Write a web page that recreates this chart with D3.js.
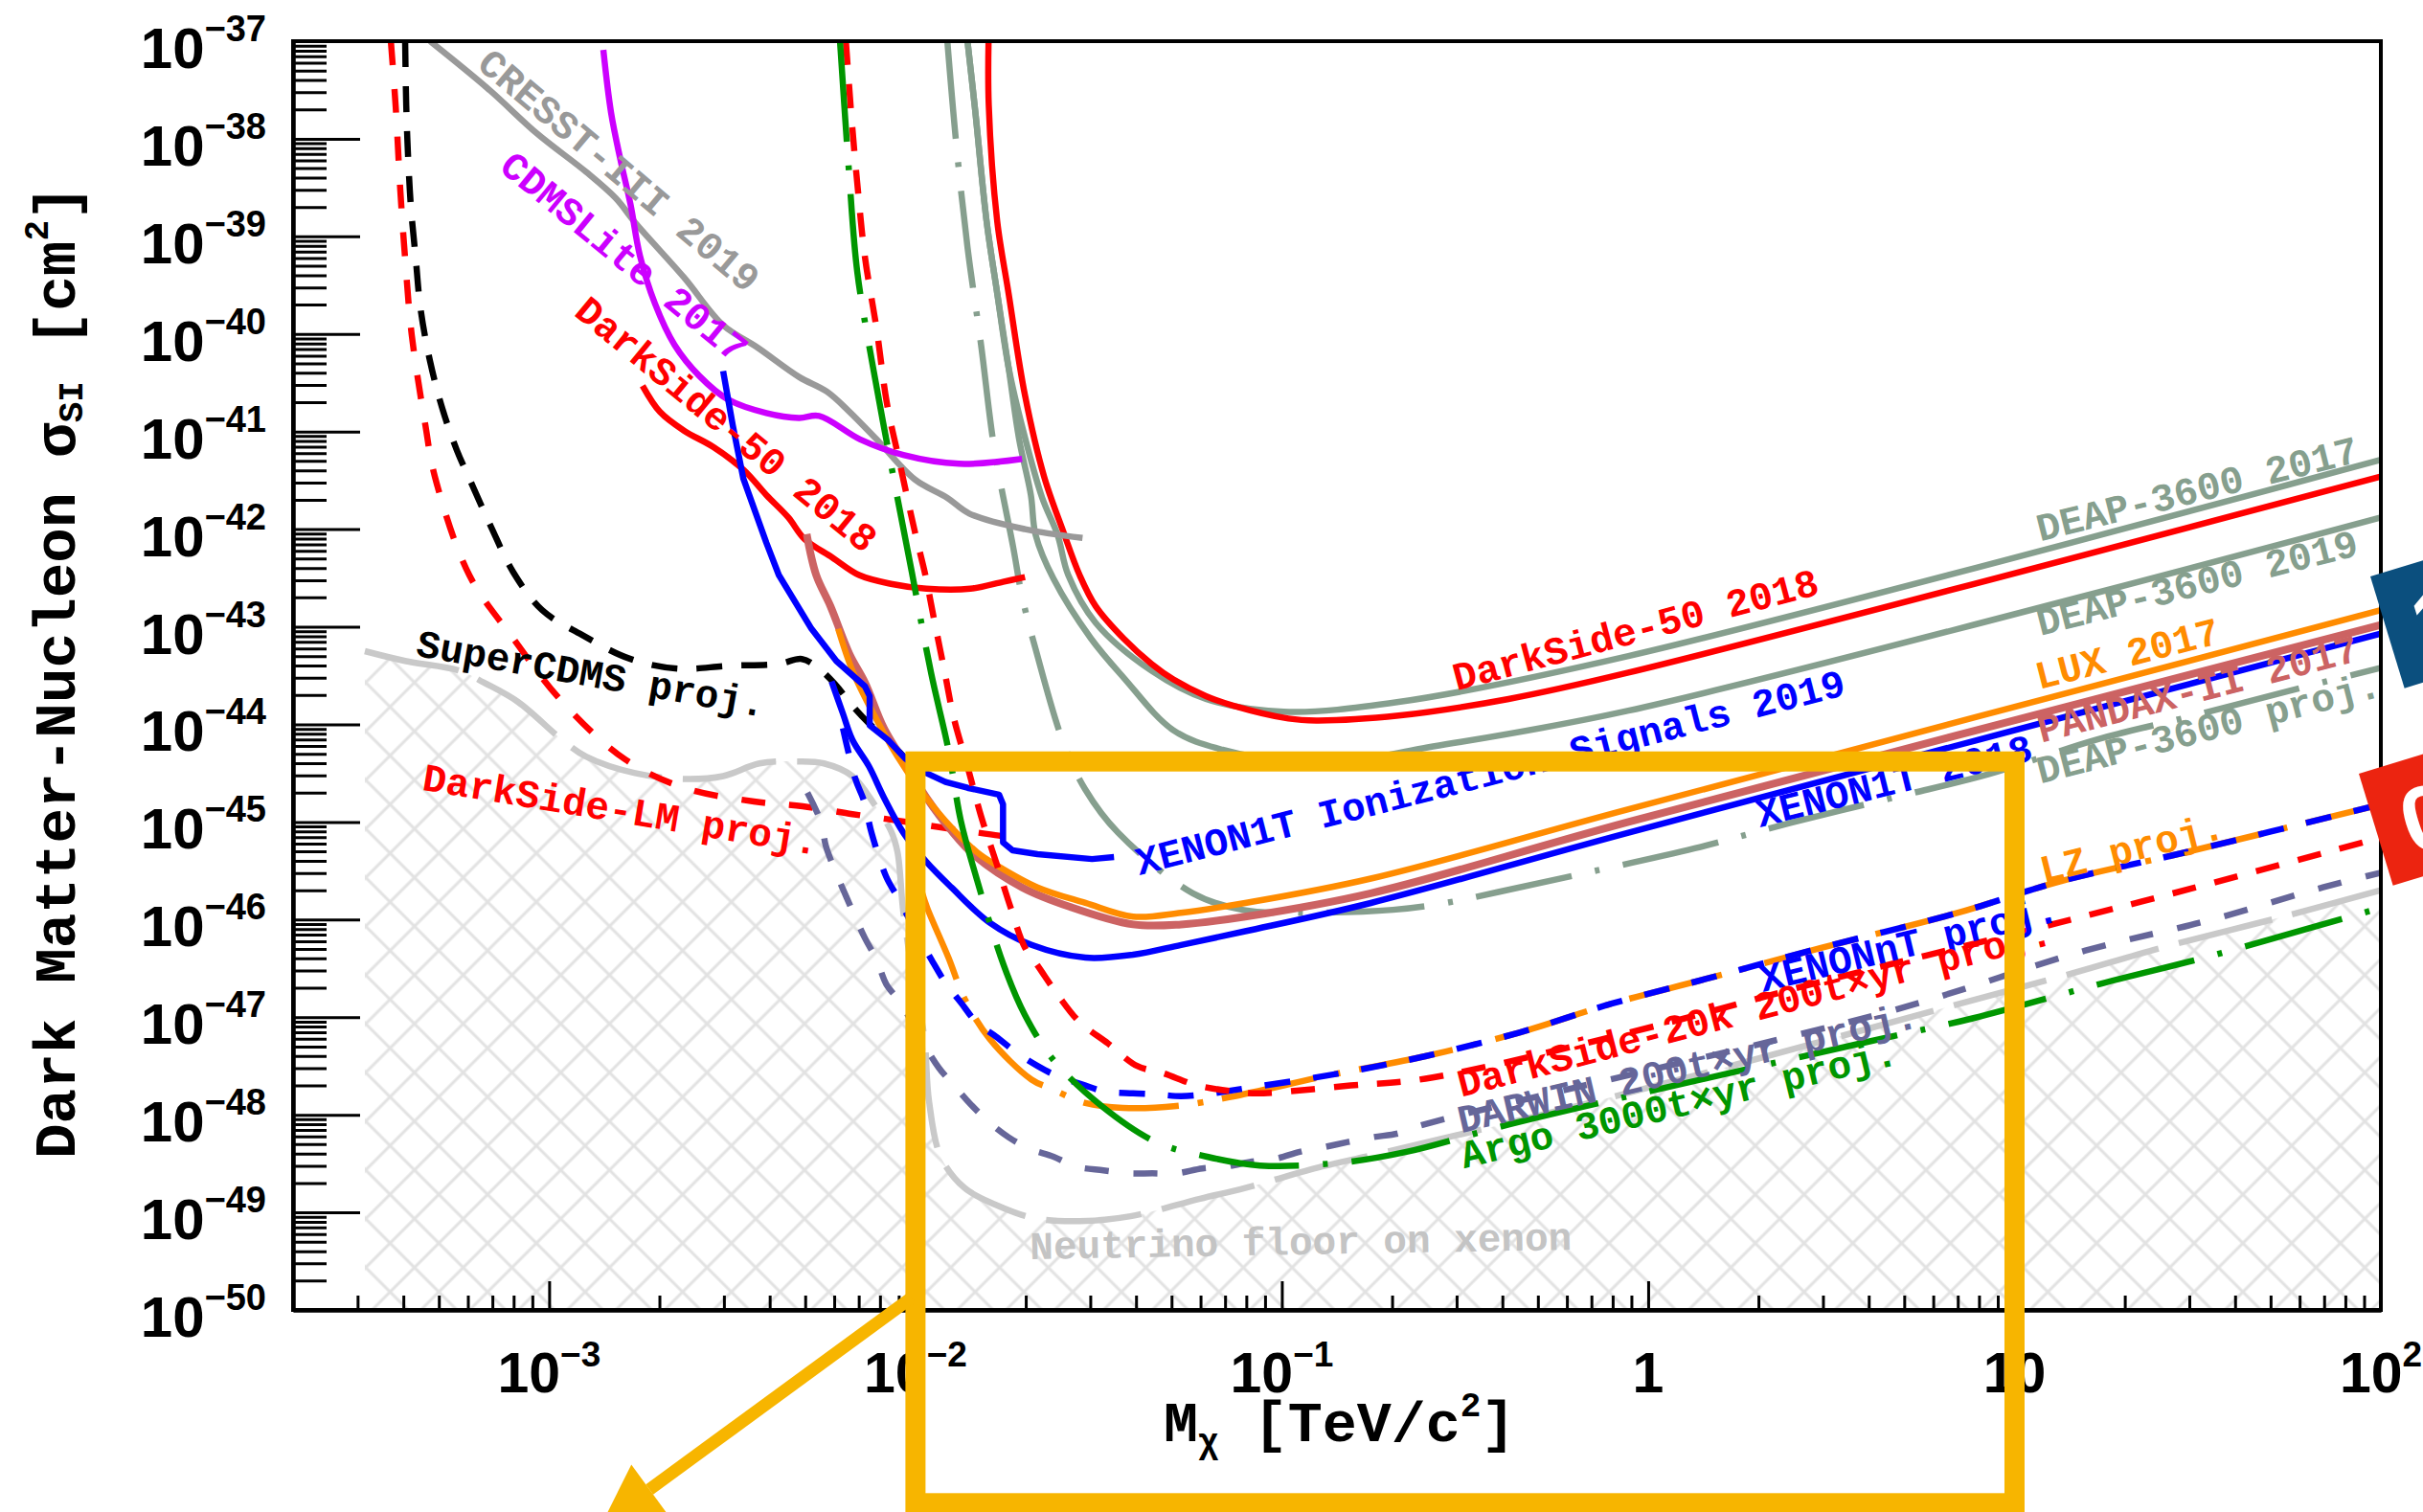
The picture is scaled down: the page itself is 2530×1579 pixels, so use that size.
<!DOCTYPE html>
<html>
<head>
<meta charset="utf-8">
<script src="https://cdnjs.cloudflare.com/ajax/libs/d3/7.8.5/d3.min.js"></script>
<style>
  body { margin: 0; background: #fff; }
  svg { display: block; }
  .mono { font-family: "Liberation Mono", "Courier New", monospace; font-weight: bold; }
  .tick-label { font-family: "Liberation Sans", Arial, sans-serif; font-weight: bold; }
</style>
</head>
<body>
<svg id="chart" width="2530" height="1579"></svg>
<script>
// every curve: [log10(M / TeV), log10(sigma_SI / cm^2)]
const cresst2019 = [[-3.325,-37.0],[-3.166,-37.49],[-3.032,-37.95],[-2.899,-38.34],[-2.818,-38.61],[-2.765,-38.86],[-2.632,-39.42],[-2.525,-39.91],[-2.431,-40.14],[-2.318,-40.44],[-2.242,-40.59],[-2.182,-40.79],[-2.106,-41.08],[-2.002,-41.49],[-1.913,-41.68],[-1.853,-41.84],[-1.701,-42.0],[-1.544,-42.09]];
const cdmslite2017 = [[-2.852,-37.09],[-2.831,-37.73],[-2.805,-38.22],[-2.778,-38.67],[-2.752,-39.2],[-2.711,-39.69],[-2.658,-40.11],[-2.59,-40.43],[-2.512,-40.67],[-2.407,-40.81],[-2.318,-40.86],[-2.263,-40.84],[-2.151,-41.08],[-2.033,-41.24],[-1.881,-41.33],[-1.709,-41.28]];
const darkside50Low = [[-2.745,-40.53],[-2.697,-40.8],[-2.632,-40.99],[-2.551,-41.16],[-2.47,-41.39],[-2.407,-41.65],[-2.347,-41.88],[-2.303,-42.1],[-2.227,-42.29],[-2.154,-42.47],[-2.067,-42.56],[-1.97,-42.61],[-1.85,-42.61],[-1.761,-42.54],[-1.701,-42.49]];
const darkside50High = [[-1.8,-36.9],[-1.8,-37.65],[-1.777,-38.84],[-1.746,-39.58],[-1.701,-40.63],[-1.649,-41.46],[-1.597,-42.02],[-1.552,-42.47],[-1.508,-42.79],[-1.432,-43.12],[-1.356,-43.38],[-1.296,-43.54],[-1.207,-43.71],[-1.131,-43.81],[-0.982,-43.94],[-0.906,-43.96],[-0.681,-43.91],[-0.381,-43.74],[-0.054,-43.47],[2.0,-41.46]];
const deap2017 = [[-1.858,-37.0],[-1.837,-37.71],[-1.806,-38.84],[-1.777,-39.58],[-1.746,-40.34],[-1.706,-40.99],[-1.654,-41.68],[-1.612,-42.06],[-1.583,-42.47],[-1.508,-42.96],[-1.356,-43.45],[-1.207,-43.74],[-0.995,-43.87],[-0.681,-43.77],[-0.054,-43.3],[2.0,-41.29]];
const deap2019 = [[-1.858,-37.0],[-1.837,-37.71],[-1.806,-38.84],[-1.777,-39.58],[-1.746,-40.34],[-1.717,-41.08],[-1.685,-41.65],[-1.672,-42.06],[-1.623,-42.51],[-1.521,-43.12],[-1.432,-43.52],[-1.296,-44.06],[-1.162,-44.26],[-0.969,-44.38],[-0.786,-44.36],[-0.637,-44.26],[-0.054,-43.86],[2.0,-41.88]];
const deapProj = [[-1.913,-37.0],[-1.889,-38.04],[-1.858,-39.11],[-1.821,-40.11],[-1.785,-41.17],[-1.733,-42.19],[-1.709,-42.69],[-1.672,-43.23],[-1.597,-44.18],[-1.536,-44.67],[-1.447,-45.11],[-1.243,-45.73],[-1.108,-45.9],[-0.958,-45.93],[-0.697,-45.9],[-0.553,-45.83],[-0.412,-45.72],[-0.156,-45.51],[0.127,-45.27],[0.388,-45.01],[0.681,-44.74],[0.93,-44.51],[1.22,-44.16],[1.468,-43.93],[1.746,-43.66],[2.0,-43.42]];
const xenon1tIonization = [[-2.525,-40.38],[-2.499,-40.93],[-2.47,-41.48],[-2.407,-42.14],[-2.373,-42.47],[-2.284,-43.02],[-2.216,-43.35],[-2.138,-43.61],[-2.125,-43.71],[-2.125,-44.01],[-2.075,-44.16],[-2.028,-44.35],[-1.97,-44.5],[-1.918,-44.59],[-1.858,-44.65],[-1.772,-44.72],[-1.761,-44.82],[-1.761,-45.21],[-1.735,-45.29],[-1.667,-45.33],[-1.518,-45.38],[-1.458,-45.36]];
const xenon1t2018 = [[-2.229,-43.56],[-2.198,-43.89],[-2.172,-44.16],[-2.127,-44.43],[-2.086,-44.75],[-2.033,-45.11],[-1.97,-45.41],[-1.902,-45.67],[-1.798,-46.03],[-1.683,-46.26],[-1.536,-46.39],[-1.406,-46.36],[-1.275,-46.26],[-1.1,-46.12],[-0.757,-45.83],[-0.054,-45.11],[2.0,-43.07]];
const pandax2017 = [[-2.297,-42.05],[-2.271,-42.47],[-2.232,-42.79],[-2.18,-43.28],[-2.138,-43.57],[-2.086,-44.04],[-2.023,-44.43],[-1.97,-44.75],[-1.902,-45.09],[-1.84,-45.34],[-1.709,-45.67],[-1.578,-45.87],[-1.406,-46.05],[-1.275,-46.05],[-1.1,-45.97],[-0.757,-45.73],[-0.054,-45.0],[2.0,-42.98]];
const lux2017 = [[-2.211,-43.02],[-2.172,-43.45],[-2.112,-43.91],[-2.049,-44.33],[-1.997,-44.62],[-1.918,-44.99],[-1.832,-45.31],[-1.78,-45.44],[-1.667,-45.67],[-1.536,-45.83],[-1.406,-45.97],[-1.275,-45.93],[-1.1,-45.83],[-0.757,-45.58],[-0.054,-44.87],[2.0,-42.83]];
const superCdmsProj = [[-3.393,-37.0],[-3.39,-37.66],[-3.385,-38.18],[-3.377,-38.71],[-3.364,-39.23],[-3.351,-39.74],[-3.325,-40.28],[-3.291,-40.77],[-3.252,-41.19],[-3.218,-41.48],[-3.158,-41.98],[-3.098,-42.44],[-3.019,-42.83],[-2.912,-43.08],[-2.778,-43.33],[-2.645,-43.43],[-2.512,-43.4],[-2.373,-43.38],[-2.31,-43.33],[-2.263,-43.43],[-2.219,-43.59],[-2.172,-43.81],[-2.127,-43.99],[-2.075,-44.16],[-2.02,-44.38]];
const darksideLmProj = [[-3.432,-37.0],[-3.419,-37.66],[-3.406,-38.54],[-3.393,-39.23],[-3.375,-40.01],[-3.338,-40.93],[-3.312,-41.46],[-3.218,-42.47],[-3.098,-43.12],[-2.964,-43.77],[-2.792,-44.36],[-2.632,-44.65],[-2.441,-44.79],[-2.308,-44.84],[-2.172,-44.92],[-2.041,-44.99],[-1.905,-45.07],[-1.772,-45.14],[-1.709,-45.18]];
const darkside20kProj = [[-2.19,-37.0],[-2.174,-37.81],[-2.159,-38.45],[-2.138,-39.21],[-2.106,-39.95],[-2.078,-40.71],[-2.046,-41.27],[-2.002,-42.02],[-1.973,-42.47],[-1.95,-42.91],[-1.921,-43.45],[-1.895,-43.94],[-1.858,-44.43],[-1.821,-44.94],[-1.78,-45.41],[-1.74,-45.88],[-1.701,-46.29],[-1.667,-46.47],[-1.61,-46.78],[-1.552,-47.05],[-1.474,-47.27],[-1.395,-47.5],[-1.327,-47.57],[-1.23,-47.7],[-1.134,-47.76],[-1.068,-47.78],[-0.812,-47.7],[-0.608,-47.63],[-0.054,-47.16],[0.469,-46.64],[1.123,-46.03],[1.515,-45.65],[2.0,-45.16]];
const xenonntProj = [[-2.198,-44.04],[-2.164,-44.56],[-2.14,-44.79],[-2.12,-45.11],[-2.08,-45.56],[-2.049,-45.77],[-2.002,-46.1],[-1.955,-46.42],[-1.916,-46.66],[-1.876,-46.85],[-1.832,-47.06],[-1.78,-47.2],[-1.722,-47.37],[-1.667,-47.5],[-1.615,-47.6],[-1.544,-47.69],[-1.484,-47.76],[-1.406,-47.78],[-1.343,-47.79],[-1.275,-47.81],[-1.209,-47.79],[-1.118,-47.74],[-0.864,-47.59],[-0.608,-47.4],[-0.354,-47.16],[-0.098,-46.86],[0.156,-46.61],[0.472,-46.29],[0.846,-45.93],[1.123,-45.61],[1.468,-45.31],[2.0,-44.82]];
const lzProj = [[-1.984,-45.7],[-1.968,-45.88],[-1.91,-46.39],[-1.866,-46.81],[-1.798,-47.22],[-1.683,-47.64],[-1.631,-47.73],[-1.536,-47.88],[-1.434,-47.93],[-1.288,-47.91],[-1.144,-47.82],[-0.864,-47.59],[-0.608,-47.4],[-0.354,-47.16],[-0.098,-46.86],[0.156,-46.61],[0.472,-46.29],[0.846,-45.93],[1.123,-45.61],[1.468,-45.31],[2.0,-44.82]];
const darwinProj = [[-2.295,-44.7],[-2.258,-45.0],[-2.245,-45.24],[-2.229,-45.41],[-2.185,-45.8],[-2.138,-46.19],[-2.106,-46.41],[-2.08,-46.66],[-2.041,-46.85],[-1.989,-47.2],[-1.936,-47.52],[-1.892,-47.71],[-1.85,-47.89],[-1.798,-48.08],[-1.746,-48.23],[-1.688,-48.35],[-1.623,-48.43],[-1.563,-48.53],[-1.487,-48.57],[-1.421,-48.6],[-1.353,-48.6],[-1.288,-48.6],[-1.217,-48.55],[-1.152,-48.53],[-1.081,-48.48],[-1.016,-48.45],[-0.951,-48.38],[-0.883,-48.33],[-0.82,-48.28],[-0.752,-48.23],[-0.681,-48.19],[-0.621,-48.11],[0.668,-46.93],[1.191,-46.32],[1.539,-46.0],[1.842,-45.67],[2.0,-45.52]];
const argoProj = [[-2.206,-37.0],[-2.182,-38.31],[-2.159,-39.36],[-2.114,-40.38],[-2.062,-41.43],[-2.01,-42.44],[-1.957,-43.48],[-1.91,-44.26],[-1.876,-44.99],[-1.837,-45.53],[-1.759,-46.47],[-1.701,-46.98],[-1.623,-47.44],[-1.492,-47.91],[-1.343,-48.28],[-1.204,-48.43],[-1.06,-48.52],[-0.838,-48.49],[-0.66,-48.38],[-0.381,-48.1],[-0.054,-47.81],[0.59,-47.26],[0.888,-47.01],[1.233,-46.66],[1.518,-46.39],[1.774,-46.12],[2.0,-45.88]];
const neutrinoFloor = [[-3.503,-43.25],[-3.393,-43.35],[-3.244,-43.45],[-3.179,-43.57],[-3.085,-43.77],[-2.964,-44.16],[-2.899,-44.33],[-2.765,-44.5],[-2.632,-44.56],[-2.525,-44.53],[-2.426,-44.4],[-2.321,-44.38],[-2.25,-44.4],[-2.172,-44.53],[-2.112,-44.82],[-2.067,-45.09],[-2.049,-45.31],[-2.033,-45.93],[-2.002,-46.68],[-1.976,-47.2],[-1.963,-47.86],[-1.931,-48.43],[-1.866,-48.75],[-1.782,-48.92],[-1.675,-49.06],[-1.552,-49.09],[-1.413,-49.04],[-1.223,-48.86],[-1.1,-48.75],[-0.89,-48.53],[-0.736,-48.4],[-0.569,-48.25],[-0.354,-48.06],[0.156,-47.57],[0.833,-46.88],[1.149,-46.56],[1.4,-46.29],[1.733,-45.97],[2.0,-45.7]];

// axis values
const yExponents = [-37,-38,-39,-40,-41,-42,-43,-44,-45,-46,-47,-48,-49,-50];
const xTicks = [1e-3, 1e-2, 1e-1, 1, 10, 100];
const xTickLabels = [["10","\u22123"],["10","\u22122"],["10","\u22121"],["1",""],["10",""],["10","2"]];

const RED = "#ff0000", BLUE = "#0000ff", ORANGE = "#ff8c00", DEAP = "#869f8e",
      GRAY = "#999999", PURPLE = "#cc00ff", ROSE = "#cc6363", SLATE = "#666699",
      GREEN = "#009600", FLOOR = "#c9c9c9";

const series = [
  {data: neutrinoFloor, color: FLOOR, dash: "100,22"},
  {data: deapProj, color: DEAP, dash: "102,25,5,25"},
  {data: deap2019, color: DEAP},
  {data: deap2017, color: DEAP},
  {data: darkside50High, color: RED},
  {data: cresst2019, color: GRAY},
  {data: cdmslite2017, color: PURPLE},
  {data: darkside50Low, color: RED},
  {data: superCdmsProj, color: "#000", dash: "27,20"},
  {data: darksideLmProj, color: RED, dash: "25,25"},
  {data: pandax2017, color: ROSE, width: 8},
  {data: lux2017, color: ORANGE},
  {data: xenon1t2018, color: BLUE},
  {data: xenon1tIonization, color: BLUE, linear: true},
  {data: darwinProj, color: SLATE, dash: "25,26"},
  {data: lzProj, color: ORANGE, dash: "100,20,6,20"},
  {data: xenonntProj, color: BLUE, dash: "27,24"},
  {data: darkside20kProj, color: RED, dash: "25,20"},
  {data: argoProj, color: GREEN, dash: "105,25,5,25"}
];

// text labels placed on the curves: centre in data units, rotation in degrees
const labels = [
  {text: "CRESST-III 2019", color: GRAY, at: [-2.813,-38.344], angle: 40},
  {text: "CDMSLite 2017", color: PURPLE, at: [-2.799,-39.227], angle: 39.4},
  {text: "DarkSide-50 2018", color: RED, at: [-2.52,-40.944], angle: 39.5},
  {text: "SuperCDMS proj.", color: "#000", at: [-2.886,-43.505], angle: 10},
  {text: "DarkSide-LM proj.", color: RED, at: [-2.805,-44.898], angle: 9.4},
  {text: "DarkSide-50 2018", color: RED, at: [-0.033,-43.054], angle: -14.9},
  {text: "DEAP-3600 2017", color: DEAP, at: [1.5,-41.612], angle: -14},
  {text: "DEAP-3600 2019", color: DEAP, at: [1.5,-42.573], angle: -14.2},
  {text: "LUX 2017", color: ORANGE, at: [1.309,-43.299], angle: -14.3},
  {text: "PANDAX-II 2017", color: ROSE, at: [1.502,-43.662], angle: -14.5},
  {text: "DEAP-3600 proj.", color: DEAP, at: [1.531,-44.055], angle: -14.4},
  {text: "XENON1T 2018", color: BLUE, at: [0.673,-44.604], angle: -13.8},
  {text: "XENON1T Ionization Signals 2019", color: BLUE, at: [-0.43,-44.516], angle: -14.3},
  {text: "LZ proj.", color: ORANGE, at: [1.322,-45.291], angle: -14},
  {text: "XENONnT proj.", color: BLUE, at: [0.713,-46.272], angle: -13.5},
  {text: "DarkSide-20k 200t\u00d7yr proj.", color: RED, at: [0.292,-46.929], angle: -14.5},
  {text: "DARWIN 200t\u00d7yr proj.", color: SLATE, at: [0.109,-47.538], angle: -13},
  {text: "Argo 3000t\u00d7yr proj.", color: GREEN, at: [0.085,-47.911], angle: -13.5},
  {text: "Neutrino floor on xenon", color: "#c4c4c4", at: [-0.948,-49.323], angle: -1}
];

// zoom box (10 GeV - 10 TeV) and arrow, in data units
const zoomBox = {mass: [0.01, 10], logSigma: [-44.38, -51.98]};
const zoomArrow = {from: [-2.01, -49.873], to: [-2.857, -52.198]};

const svg = d3.select("#chart");
const x = d3.scaleLog().domain([2e-4, 100]).range([306, 2486]);
const y = d3.scaleLog().domain([1e-37, 1e-50]).range([43, 1368]);
const px = d => x(10 ** d[0]);
const py = d => y(10 ** d[1]);
const [x0, x1] = x.range();
const [y0, y1] = y.range();

const defs = svg.append("defs");
defs.append("clipPath").attr("id", "plotClip")
  .append("rect").attr("x", x0).attr("y", y0).attr("width", x1 - x0).attr("height", y1 - y0);
const hatch = defs.append("pattern").attr("id", "hatch")
  .attr("patternUnits", "userSpaceOnUse").attr("width", 36).attr("height", 36)
  .attr("patternTransform", "rotate(45)");
hatch.append("path").attr("d", "M0,18H36M18,0V36")
  .attr("stroke", "#e2e2e2").attr("stroke-width", 3).attr("fill", "none");

const plot = svg.append("g").attr("clip-path", "url(#plotClip)");

// hatched region below the neutrino floor
const floorArea = d3.area().x(px).y0(y1).y1(py).curve(d3.curveCatmullRom.alpha(0.5));
plot.append("path").datum(neutrinoFloor).attr("d", floorArea).attr("fill", "url(#hatch)");

const smooth = d3.line().x(px).y(py).curve(d3.curveCatmullRom.alpha(0.5));
const straight = d3.line().x(px).y(py);

plot.selectAll("path.curve").data(series).join("path")
  .attr("class", "curve")
  .attr("d", s => (s.linear ? straight : smooth)(s.data))
  .attr("fill", "none")
  .attr("stroke", s => s.color)
  .attr("stroke-width", s => s.width || 6.5)
  .attr("stroke-dasharray", s => s.dash || null)
  .attr("stroke-linejoin", "round");

// labels
svg.append("g").attr("class", "mono").selectAll("text").data(labels).join("text")
  .attr("transform", d => `translate(${px(d.at)},${py(d.at)}) rotate(${d.angle})`)
  .attr("text-anchor", "middle")
  .attr("dominant-baseline", "central")
  .attr("font-size", 41)
  .attr("fill", d => d.color)
  .text(d => d.text);

// axes: ticks pointing inward
const yMinor = [];
yExponents.slice(1).forEach(e => { for (let k = 2; k <= 9; k++) yMinor.push(k * 10 ** e); });
const xMinor = [];
[-4, -3, -2, -1, 0, 1].forEach(e => { for (let k = 2; k <= 9; k++) { const v = k * 10 ** e; if (v >= 2e-4 && v <= 100) xMinor.push(v); } });

function styleAxis(g) {
  g.selectAll("line").attr("stroke", "#000").attr("stroke-width", 3);
  g.select(".domain").attr("stroke", "#000").attr("stroke-width", 4);
  g.selectAll("text").remove();
}

svg.append("g").attr("transform", `translate(${x0},0)`)
  .call(d3.axisLeft(y).tickValues(yMinor).tickSize(-35).tickSizeOuter(0)).call(styleAxis);
svg.append("g").attr("transform", `translate(${x0},0)`)
  .call(d3.axisLeft(y).tickValues(yExponents.map(e => 10 ** e)).tickSize(-70).tickSizeOuter(0)).call(styleAxis);
svg.append("g").attr("transform", `translate(0,${y1})`)
  .call(d3.axisBottom(x).tickValues(xMinor).tickSize(-15).tickSizeOuter(0)).call(styleAxis);
svg.append("g").attr("transform", `translate(0,${y1})`)
  .call(d3.axisBottom(x).tickValues(xTicks).tickSize(-30).tickSizeOuter(0)).call(styleAxis);

svg.append("rect").attr("x", x0).attr("y", y0).attr("width", x1 - x0).attr("height", y1 - y0)
  .attr("fill", "none").attr("stroke", "#000").attr("stroke-width", 4);

// tick labels with superscripts
const yLab = svg.append("g").attr("class", "tick-label").selectAll("text").data(yExponents).join("text")
  .attr("x", x0 - 28).attr("y", e => y(10 ** e) + 28)
  .attr("text-anchor", "end");
yLab.append("tspan").attr("font-size", 60).text("10");
yLab.append("tspan").attr("font-size", 38).attr("dy", -28).text(e => "\u2212" + Math.abs(e));

const xLab = svg.append("g").attr("class", "tick-label").selectAll("text").data(xTicks).join("text")
  .attr("x", v => x(v)).attr("y", y1 + 86)
  .attr("text-anchor", "middle");
xLab.append("tspan").attr("font-size", 59).text((v, i) => xTickLabels[i][0]);
xLab.append("tspan").attr("font-size", 37).attr("dy", -27).text((v, i) => xTickLabels[i][1]);

// axis titles
const yTitle = svg.append("text").attr("class", "mono")
  .attr("transform", "translate(78,1210) rotate(-90)").attr("font-size", 61);
yTitle.append("tspan").text("Dark Matter-Nucleon \u03c3");
yTitle.append("tspan").attr("font-size", 36).attr("dy", 8).text("SI");
yTitle.append("tspan").attr("dy", -8).text(" [cm");
yTitle.append("tspan").attr("font-size", 36).attr("dy", -28).text("2");
yTitle.append("tspan").attr("dy", 28).text("]");

const xTitle = svg.append("text").attr("class", "mono")
  .attr("x", 1215).attr("y", 1505).attr("font-size", 60);
xTitle.append("tspan").text("M");
xTitle.append("tspan").attr("font-size", 36).attr("dy", 12).text("\u03c7");
xTitle.append("tspan").attr("dy", -12).text(" [TeV/c");
xTitle.append("tspan").attr("font-size", 36).attr("dy", -26).text("2");
xTitle.append("tspan").attr("dy", 26).text("]");

// yellow zoom frame and arrow
const YELLOW = "#f7b500";
const bx0 = x(zoomBox.mass[0]), bx1 = x(zoomBox.mass[1]);
const by0 = y(10 ** zoomBox.logSigma[0]), by1 = y(10 ** zoomBox.logSigma[1]);
svg.append("rect").attr("x", bx0).attr("y", by0).attr("width", bx1 - bx0).attr("height", by1 - by0)
  .attr("fill", "none").attr("stroke", YELLOW).attr("stroke-width", 21);

const [ax0, ay0] = [px(zoomArrow.from), py(zoomArrow.from)];
const [ax1, ay1] = [px(zoomArrow.to), py(zoomArrow.to)];
const len = Math.hypot(ax1 - ax0, ay1 - ay0);
const ux = (ax1 - ax0) / len, uy = (ay1 - ay0) / len;
const head = 62, half = 32;
const bcx = ax1 - ux * head, bcy = ay1 - uy * head;
svg.append("line").attr("x1", ax0).attr("y1", ay0).attr("x2", bcx).attr("y2", bcy)
  .attr("stroke", YELLOW).attr("stroke-width", 13);
svg.append("path")
  .attr("d", `M${ax1},${ay1}L${bcx - uy * half},${bcy + ux * half}L${bcx + uy * half},${bcy - ux * half}Z`)
  .attr("fill", YELLOW);

// badges cut by the right edge
const badges = [
  {text: "1", color: "#0b4f7e", logSigma: -42.485, dx: -11},
  {text: "0", color: "#ec2410", logSigma: -44.506, dx: -23}
];
const bg = svg.append("g").selectAll("g").data(badges).join("g")
  .attr("transform", d => `translate(${x1 + d.dx},${y(10 ** d.logSigma)}) rotate(-17)`);
bg.append("rect").attr("width", 130).attr("height", 122).attr("fill", d => d.color);
bg.append("text").attr("class", "tick-label").attr("x", 28).attr("y", 98)
  .attr("font-size", 96).attr("fill", "#fff").text(d => d.text);
</script>
</body>
</html>
